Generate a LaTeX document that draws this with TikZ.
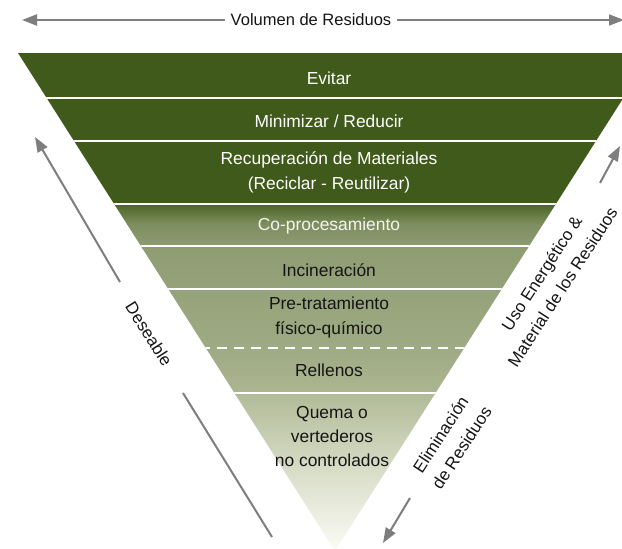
\documentclass[tikz,border=0pt]{standalone}
\usepackage{fontspec}
\setmainfont{Liberation Sans}
\usetikzlibrary{arrows.meta}

\definecolor{leaf}{HTML}{405A1C}
\definecolor{guidegray}{HTML}{7E7E7E}
\definecolor{inktext}{HTML}{151515}

\tikzset{
  bandtext/.style={font=\fontsize{17.4}{25}\selectfont, align=center, text=inktext, inner sep=0pt},
  lighttext/.style={bandtext, text=white},
  sidetext/.style={font=\fontsize{17}{25}\selectfont, align=center, text=inktext, inner sep=0pt},
  guide/.style={draw=guidegray, line width=2pt},
  guidetip/.style={guide, -{Triangle[length=15pt,width=11pt]}},
  separator/.style={draw=white, line width=2.5pt},
}

\begin{document}
\begin{tikzpicture}[x=1pt,y=-1pt]
\useasboundingbox (0,0) rectangle (622,549);
\clip (0,0) rectangle (622,549);

% funnel corners
\coordinate (tl) at (18,53);
\coordinate (tr) at (652,53);
\coordinate (apex) at (335,551);

\begin{scope}
  \clip (tl) -- (tr) -- (apex) -- cycle;
  % upper (preferred) tiers
  \fill[leaf] (0,53) rectangle (660,205);
  % lower tiers, fading out towards the tip
  \shade[top color={rgb,255:red,76;green,101;blue,38}, bottom color={rgb,255:red,126;green,142;blue,95}] (0,204) rectangle (660,224);
  \shade[top color={rgb,255:red,126;green,142;blue,95}, bottom color={rgb,255:red,143;green,157;blue,115}] (0,224) rectangle (660,248);
  \shade[top color={rgb,255:red,143;green,157;blue,115}, bottom color={rgb,255:red,158;green,170;blue,131}] (0,248) rectangle (660,347);
  \shade[top color={rgb,255:red,158;green,170;blue,131}, bottom color={rgb,255:red,172;green,182;blue,145}] (0,347) rectangle (660,394);
  \shade[top color={rgb,255:red,178;green,187;blue,152}, bottom color={rgb,255:red,216;green,221;blue,199}] (0,394) rectangle (660,470);
  \shade[top color={rgb,255:red,216;green,221;blue,199}, bottom color={rgb,255:red,252;green,252;blue,247}] (0,470) rectangle (660,552);
  % tier separators
  \draw[separator] (0,98.2) -- (660,98.2);
  \draw[separator] (0,141.2) -- (660,141.2);
  \draw[separator] (0,204.2) -- (660,204.2);
  \draw[separator] (0,246.2) -- (660,246.2);
  \draw[separator] (0,289.2) -- (660,289.2);
  \draw[draw=white, line width=2pt, dash pattern=on 10pt off 7pt, dash phase=4pt] (0,347.5) -- (660,347.5);
  \draw[separator] (0,393.2) -- (660,393.2);
\end{scope}

% tier labels
\node[lighttext] (evitar) at (329,78) {Evitar};
\node[lighttext] (minimizar) at (329,121) {Minimizar / Reducir};
\node[lighttext] (recuperacion) at (329,172) {Recuperación de Materiales\\(Reciclar - Reutilizar)};
\node[lighttext, text={rgb,255:red,245;green,245;blue,240}] (coproc) at (329,226) {Co-procesamiento};
\node[bandtext] (incineracion) at (329,270) {Incineración};
\node[bandtext] (pretrat) at (329,317) {Pre-tratamiento\\físico-químico};
\node[bandtext] (rellenos) at (329,370) {Rellenos};
\node[bandtext, font=\fontsize{17.4}{24}\selectfont] (quema) at (332,437) {Quema o\\vertederos\\no controlados};

% volume arrow across the top
\node[sidetext, font=\fontsize{16.5}{20}\selectfont] (volumen) at (311,20) {Volumen de Residuos};
\coordinate (volL) at (22,20);
\coordinate (volR) at (624,20);
\draw[guidetip] (volumen.west) ++(-6,0) -- (volL);
\draw[guidetip] (volumen.east) ++(6,0) -- (volR);

% desirability arrow on the left
\node[sidetext, rotate=-57.5] (deseable) at (149,334) {Deseable};
\coordinate (desA) at (272,537);
\coordinate (desB) at (183,393);
\coordinate (desC) at (120,282);
\coordinate (desTip) at (35,137);
\draw[guide] (desA) -- (desB);
\draw[guidetip] (desC) -- (desTip);

% outcomes on the right
\node[sidetext, rotate=57] (uso) at (552,280) {Uso Energético \&\\Material de los Residuos};
\node[sidetext, rotate=57] (eliminacion) at (451,441) {Eliminación\\de Residuos};
\coordinate (usoA) at (600,183);
\coordinate (usoTip) at (620,146);
\coordinate (elimA) at (410,498);
\coordinate (elimTip) at (383,543);
\draw[guidetip] (usoA) -- (usoTip);
\draw[guidetip] (elimA) -- (elimTip);
\end{tikzpicture}
\end{document}
